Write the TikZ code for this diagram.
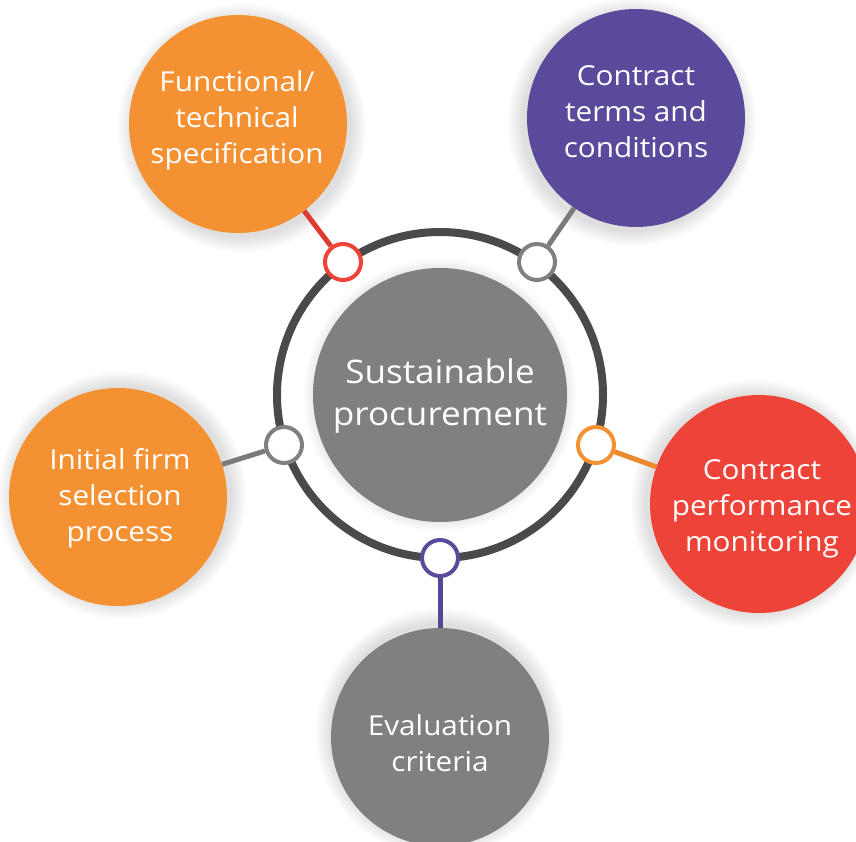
\documentclass[tikz,border=0pt]{standalone}
\usepackage{fontspec}
\setmainfont[FakeStretch=1.08]{Open Sans}
\definecolor{corange}{RGB}{244,145,50}
\definecolor{cpurple}{RGB}{91,74,155}
\definecolor{cred}{RGB}{238,67,56}
\definecolor{cgray}{RGB}{128,128,128}
\definecolor{cring}{RGB}{74,74,74}
\definecolor{lred}{RGB}{222,58,50}
\definecolor{lorange}{RGB}{234,137,45}
\definecolor{lgray}{RGB}{122,122,122}
\definecolor{lpurple}{RGB}{86,70,150}
\tikzset{
  sat/.style={circle, minimum size=218pt, inner sep=0pt},
  lbl/.style={inner sep=0pt, text=white, align=center,
    font=\fontsize{27.5}{36}\selectfont},
  dot/.style={circle, minimum size=36pt, inner sep=0pt, fill=white, line width=4pt},
  conn/.style={line width=5pt},
  glow/.style={fill=black, opacity=0.014}
}
\begin{document}
\begin{tikzpicture}[x=1pt,y=-1pt]
\useasboundingbox (0,0) rectangle (856,841);
\coordinate (cF) at (238,124);
\coordinate (cC) at (636,118);
\coordinate (cP) at (759,504);
\coordinate (cI) at (118,497);
\coordinate (cE) at (440,737);
\coordinate (cO) at (440,395);
% soft shadows
\foreach \p/\dx/\dy in {cF/4/4, cC/-4/4, cP/-4/0, cI/4/-2, cE/0/-4}{
  \foreach \k in {110,112,...,124}{
    \fill[glow] ([shift={(\dx,\dy)}]\p) circle[radius=\k pt];
  }
}
\foreach \k in {128,130,...,136}{
  \fill[glow] (cO) circle[radius=\k pt];
}
% satellites
\node[sat, fill=corange] (F) at (cF) {};
\node[sat, fill=cpurple] (C) at (cC) {};
\node[sat, fill=cred] (P) at (cP) {};
\node[sat, fill=corange] (I) at (cI) {};
\node[sat, fill=cgray] (E) at (cE) {};
\node[lbl] (Ft) at (237,120) {Functional/\\technical\\specification};
\node[lbl] (Ct) at (636,112) {Contract\\terms and\\conditions};
\node[lbl] (Pt) at (762,509) {Contract\\performance\\monitoring};
\node[lbl] (It) at (120,498) {Initial firm\\selection\\process};
\node[lbl] (Et) at (440,743) {Evaluation\\criteria};
% centre
\node[circle, fill=cgray, minimum size=254pt, inner sep=0pt] (S) at (cO) {};
\node[lbl, font=\fontsize{32.5}{42}\selectfont] (St) at (440,396.5) {Sustainable\\procurement};
\node[circle, draw=cring, line width=8pt, minimum size=326pt, inner sep=0pt] (R) at (cO) {};
% ring dots
\node[dot, draw=cred] (d1) at (343,262) {};
\node[dot, draw=cgray] (d2) at (537,262) {};
\node[dot, draw=corange] (d3) at (596,445) {};
\node[dot, draw=cgray] (d4) at (284,445) {};
\node[dot, draw=cpurple] (d5) at (440,558) {};
% connectors
\draw[conn, lred] (d1) -- (F);
\draw[conn, lgray] (d2) -- (C);
\draw[conn, lorange] (d3) -- (P);
\draw[conn, lgray] (d4) -- (I);
\draw[conn, lpurple] (d5) -- (E);
\end{tikzpicture}
\end{document}
